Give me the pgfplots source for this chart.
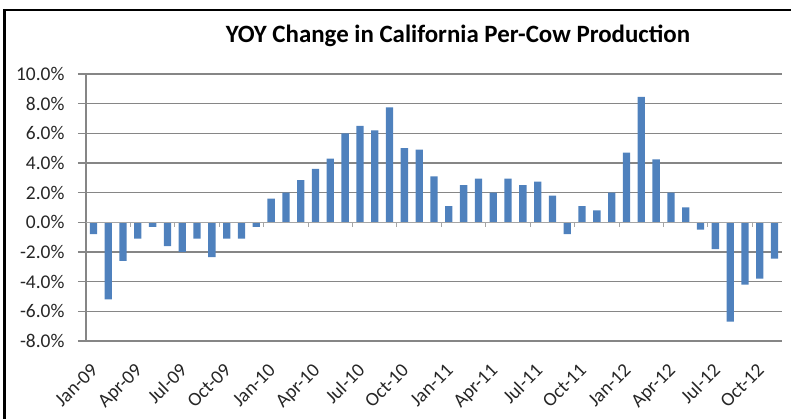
\documentclass[border=0pt]{standalone}
\usepackage{pgfplots}
\pgfplotsset{compat=1.18}
\usepackage{fontspec}
\setmainfont{Carlito}
\definecolor{barblue}{HTML}{4F81BD}
\definecolor{gridgray}{RGB}{134,134,134}
\definecolor{zerogray}{RGB}{165,165,165}

% year-over-year change, Jan-09 .. Nov-12 (index 0..46), in percent
\pgfplotstableread{
idx  yoy
0   -0.8
1   -5.2
2   -2.6
3   -1.1
4   -0.3
5   -1.6
6   -2.0
7   -1.1
8   -2.35
9   -1.1
10  -1.1
11  -0.3
12   1.6
13   2.0
14   2.85
15   3.6
16   4.3
17   6.0
18   6.5
19   6.2
20   7.75
21   5.0
22   4.9
23   3.1
24   1.1
25   2.5
26   2.95
27   2.0
28   2.95
29   2.5
30   2.75
31   1.8
32  -0.8
33   1.1
34   0.8
35   2.0
36   4.7
37   8.45
38   4.25
39   2.0
40   1.0
41  -0.5
42  -1.8
43  -6.7
44  -4.2
45  -3.8
46  -2.45
}\yoydata

\begin{document}
\begin{tikzpicture}
\useasboundingbox (0,0) rectangle (791bp,419bp);
% chart frame
\draw[line width=2.2bp] (4.5bp,-5bp) -- (4.5bp,409bp) -- (800bp,409bp);
% title
\node[font=\bfseries\fontsize{25}{30}\selectfont, anchor=base] at (458bp,376.7bp)
  {YOY Change in California Per-Cow Production};
\begin{axis}[
  at={(86bp,78bp)}, anchor=south west,
  scale only axis, width=696bp, height=267bp,
  xmin=-0.5, xmax=46.5, ymin=-8, ymax=10,
  axis y line*=left, axis x line*=bottom,
  x axis line style={draw=none},
  y axis line style={draw=gridgray, line width=1.1bp},
  ytick={-8,-6,...,10},
  ymajorgrids, grid style={draw=gridgray, line width=1.1bp},
  tick align=outside, major tick length=8bp,
  ytick style={draw=gridgray, line width=1.1bp},
  xtick={0,3,...,45},
  xticklabels={Jan-09,Apr-09,Jul-09,Oct-09,Jan-10,Apr-10,Jul-10,Oct-10,
               Jan-11,Apr-11,Jul-11,Oct-11,Jan-12,Apr-12,Jul-12,Oct-12},
  xtick style={draw=none},
  xticklabel style={xshift=-3.6bp, yshift=-11.6bp, rotate=45, anchor=north east, inner sep=1bp},
  yticklabel={\pgfmathprintnumber[fixed,fixed zerofill,precision=1]{\tick}\%},
  /pgf/number format/assume math mode=true,
  ticklabel style={font=\fontsize{19.5}{22}\selectfont, text=black!85},
  yticklabel style={xshift=-10bp},
  clip=false,
]
\addplot[ybar, bar width=7.3bp, fill=barblue, draw=none] table[x=idx,y=yoy] {\yoydata};
% horizontal category axis at zero with ticks every three months
\draw[zerogray, line width=1.1bp] (axis cs:-0.5,0) -- (axis cs:46.5,0);
\pgfplotsinvokeforeach{2.5,5.5,8.5,11.5,14.5,17.5,20.5,23.5,26.5,29.5,32.5,35.5,38.5,41.5,44.5}{
  \draw[zerogray, line width=1bp] (axis cs:#1,0) -- (axis cs:#1,-0.3);
}
\end{axis}
\end{tikzpicture}
\end{document}
